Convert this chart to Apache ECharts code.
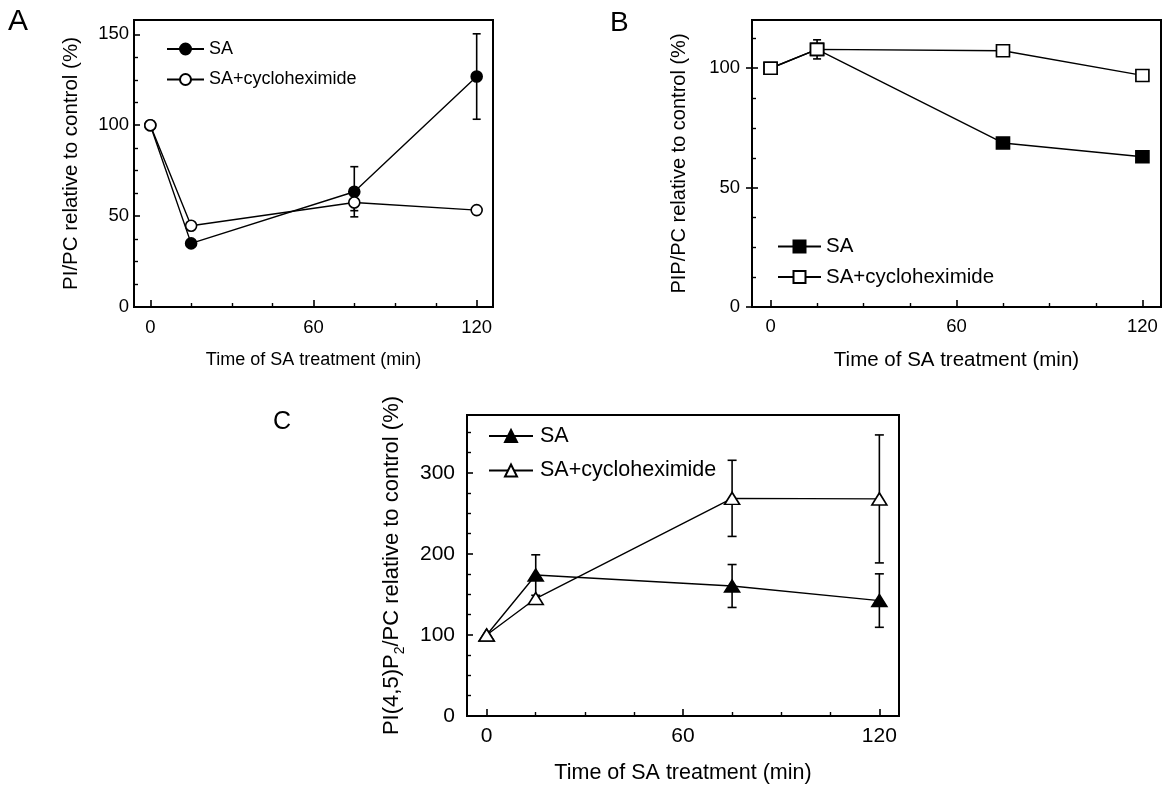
<!DOCTYPE html>
<html>
<head>
<meta charset="utf-8">
<script src="https://cdn.jsdelivr.net/npm/echarts@6/dist/echarts.min.js"></script>
<style>
html,body{margin:0;padding:0;background:#fff;}
#chart{width:1171px;height:787px;}
</style>
</head>
<body>
<div id="chart"></div>
<script>
// ---------- data ----------
const timeMin = [0, 15, 75, 120];
const xTickLabels = [0, 60, 120];
const xMinorTicks = [15, 30, 45, 75, 90, 105];

// Panel A: PI/PC
const piSA = [100, 35, 63.4, 126.8];
const piSAErr = [0, 0, 13.8, 23.5];
const piCHX = [100, 44.7, 57.5, 53.3];
const piCHXErr = [0, 0, 4.5, 0];
const yTicksA = [0, 50, 100, 150];
const yMinorA = [12.5, 25, 37.5, 62.5, 75, 87.5, 112.5, 125, 137.5];

// Panel B: PIP/PC
const pipSA = [100, 107.9, 68.7, 62.9];
const pipSAErr = [0, 0, 0, 0];
const pipCHX = [100, 107.9, 107.3, 97];
const pipCHXErr = [0, 4, 0, 1.5];
const yTicksB = [0, 50, 100];
const yMinorB = [12.5, 25, 37.5, 62.5, 75, 87.5, 112.5];

// Panel C: PI(4,5)P2/PC
const pip2SA = [100, 174, 160.5, 142.5];
const pip2SAErr = [0, 25, 26.5, 33];
const pip2CHX = [100, 145, 268.7, 268];
const pip2CHXErr = [0, 0, 47, 79];
const yTicksC = [0, 100, 200, 300];
const yMinorC = [25, 50, 75, 125, 150, 175, 225, 250, 275, 325, 350];

const legendNames = ['SA', 'SA+cycloheximide'];

// ---------- helpers ----------
const FONT = 'Liberation Sans, Arial, Helvetica, sans-serif';
const BLACK = '#000';

function pairs(xs, ys) { return xs.map((x, i) => [x, ys[i]]); }
function errData(xs, ys, es) {
  const out = [];
  xs.forEach((x, i) => { if (es[i] > 0) out.push([x, ys[i], es[i]]); });
  return out;
}
function errRender(capHalf) {
  return function (params, api) {
    const x = api.value(0), y = api.value(1), e = api.value(2);
    const t = api.coord([x, y + e]);
    const b = api.coord([x, y - e]);
    const st = { stroke: BLACK, lineWidth: 1.6, fill: null };
    return {
      type: 'group',
      children: [
        { type: 'line', shape: { x1: t[0], y1: t[1], x2: b[0], y2: b[1] }, style: st },
        { type: 'line', shape: { x1: t[0] - capHalf, y1: t[1], x2: t[0] + capHalf, y2: t[1] }, style: st },
        { type: 'line', shape: { x1: b[0] - capHalf, y1: b[1], x2: b[0] + capHalf, y2: b[1] }, style: st }
      ]
    };
  };
}

const grids = [
  { left: 134, top: 20, width: 359, height: 287 },
  { left: 752, top: 20, width: 409, height: 287 },
  { left: 467, top: 415, width: 432, height: 301 }
];

const noLine = { show: false, onZero: false };
const xAxes = [];
const yAxes = [];
function addX(g, labelSize, labelMargin, name, nameSize, nameGap) {
  xAxes.push({
    gridIndex: g, type: 'value', min: -6, max: 126, position: 'bottom',
    axisLine: noLine,
    splitLine: { show: false },
    axisTick: { show: true, inside: true, length: 7, customValues: xTickLabels, lineStyle: { color: BLACK, width: 1.6 } },
    axisLabel: { customValues: xTickLabels, margin: labelMargin, fontSize: labelSize, fontFamily: FONT, color: BLACK },
    name: name, nameLocation: 'middle', nameGap: nameGap,
    nameTextStyle: { fontSize: nameSize, fontFamily: FONT, color: BLACK }
  });
  xAxes.push({
    gridIndex: g, type: 'value', min: -6, max: 126, position: 'bottom',
    axisLine: noLine, splitLine: { show: false },
    axisTick: { show: true, inside: true, length: 4, customValues: xMinorTicks, lineStyle: { color: BLACK, width: 1.4 } },
    axisLabel: { show: false }
  });
  return xAxes.length - 2;
}
function addY(g, max, ticks, minor, labelSize, labelMargin, name, nameStyle, nameGap, outsideMajor) {
  const idx = yAxes.length;
  yAxes.push({
    gridIndex: g, type: 'value', min: 0, max: max, position: 'left',
    axisLine: noLine, splitLine: { show: false },
    axisTick: { show: true, inside: true, length: 6, customValues: ticks, lineStyle: { color: BLACK, width: 1.6 } },
    axisLabel: { customValues: ticks, margin: labelMargin, fontSize: labelSize, fontFamily: FONT, color: BLACK },
    name: name, nameLocation: 'middle', nameRotate: 90, nameGap: nameGap,
    nameTextStyle: nameStyle
  });
  yAxes.push({
    gridIndex: g, type: 'value', min: 0, max: max, position: 'left',
    axisLine: noLine, splitLine: { show: false },
    axisTick: { show: true, inside: true, length: 4, customValues: minor, lineStyle: { color: BLACK, width: 1.4 } },
    axisLabel: { show: false }
  });
  if (outsideMajor) {
    yAxes.push({
      gridIndex: g, type: 'value', min: 0, max: max, position: 'left',
      axisLine: noLine, splitLine: { show: false },
      axisTick: { show: true, inside: false, length: 6, customValues: ticks, lineStyle: { color: BLACK, width: 1.6 } },
      axisLabel: { show: false }
    });
  }
  return idx;
}

const xA = addX(0, 18.5, 11, 'Time of SA treatment (min)', 18, 44);
const yA = addY(0, 157.9, yTicksA, yMinorA, 18.5, 5,
  'PI/PC relative to control (%)', { fontSize: 20.5, fontFamily: FONT, color: BLACK }, 52, false);
const xB = addX(1, 18.5, 10, 'Time of SA treatment (min)', 20.5, 43);
const yB = addY(1, 120.2, yTicksB, yMinorB, 18.5, 12,
  'PIP/PC relative to control (%)', { fontSize: 20, fontFamily: FONT, color: BLACK }, 63, true);
const xC = addX(2, 21, 10, 'Time of SA treatment (min)', 21.5, 46);
const yC = addY(2, 371.6, yTicksC, yMinorC, 21, 12,
  '{a|PI(4,5)P}{s|2}{a|/PC relative to control (%)}',
  {
    fontSize: 22, fontFamily: FONT, color: BLACK,
    rich: {
      a: { fontSize: 22, fontFamily: FONT, color: BLACK, lineHeight: 30, verticalAlign: 'middle' },
      s: { fontSize: 14, fontFamily: FONT, color: BLACK, lineHeight: 14, verticalAlign: 'bottom' }
    }
  }, 60, false);

function lineSeries(name, xi, yi, ys, symbol, size, filled) {
  return {
    name: name, type: 'line', xAxisIndex: xi, yAxisIndex: yi,
    data: pairs(timeMin, ys), z: 3,
    symbol: symbol, symbolSize: size, showSymbol: true,
    lineStyle: { color: BLACK, width: 1.4 },
    itemStyle: { color: filled ? BLACK : '#fff', borderColor: BLACK, borderWidth: 1.6 },
    emphasis: { disabled: true },
    animation: false
  };
}
function errSeries(xi, yi, ys, es, cap) {
  return {
    type: 'custom', xAxisIndex: xi, yAxisIndex: yi, z: 2,
    renderItem: errRender(cap), data: errData(timeMin, ys, es),
    animation: false, silent: true
  };
}

const series = [
  errSeries(xA, yA, piSA, piSAErr, 4),
  errSeries(xA, yA, piCHX, piCHXErr, 4),
  lineSeries('A|' + legendNames[0], xA, yA, piSA, 'circle', 11, true),
  lineSeries('A|' + legendNames[1], xA, yA, piCHX, 'circle', 11, false),

  errSeries(xB, yB, pipSA, pipSAErr, 4),
  errSeries(xB, yB, pipCHX, pipCHXErr, 4),
  lineSeries('B|' + legendNames[0], xB, yB, pipSA, 'rect', [13, 12], true),
  lineSeries('B|' + legendNames[1], xB, yB, pipCHX, 'rect', [13, 12], false),

  errSeries(xC, yC, pip2SA, pip2SAErr, 4.5),
  errSeries(xC, yC, pip2CHX, pip2CHXErr, 4.5),
  lineSeries('C|' + legendNames[0], xC, yC, pip2SA, 'triangle', [15, 12], true),
  lineSeries('C|' + legendNames[1], xC, yC, pip2CHX, 'triangle', [15, 12], false)
];

function legend(prefix, left, top, w, h, gap, fs, textGap) {
  return {
    data: legendNames.map(n => prefix + '|' + n),
    orient: 'vertical', left: left, top: top,
    itemWidth: w, itemHeight: h, itemGap: gap, padding: 0,
    formatter: n => n.split('|')[1],
    textStyle: { fontSize: fs, fontFamily: FONT, color: BLACK, padding: [0, 0, 0, textGap - 5] },
    selectedMode: false
  };
}

const option = {
  backgroundColor: '#fff',
  animation: false,
  grid: grids.map(g => Object.assign({ show: true, borderColor: BLACK, borderWidth: 2, backgroundColor: 'transparent', containLabel: false }, g)),
  xAxis: xAxes,
  yAxis: yAxes,
  legend: [
    legend('A', 166, 40, 37, 13.75, 12.5, 18, 5),
    legend('B', 777, 236, 43, 15, 9.5, 20.5, 5),
    legend('C', 488, 425, 44, 15, 12.5, 21.5, 7)
  ],
  series: series,
  graphic: [
    { type: 'text', left: 8, top: 7, style: { text: 'A', font: '30px ' + FONT, fill: BLACK } },
    { type: 'text', left: 610, top: 9, style: { text: 'B', font: '28px ' + FONT, fill: BLACK } },
    { type: 'text', left: 273, top: 410, style: { text: 'C', font: '25px ' + FONT, fill: BLACK } }
  ]
};

const chart = echarts.init(document.getElementById('chart'), null, { renderer: 'canvas' });
chart.setOption(option);
</script>
</body>
</html>
